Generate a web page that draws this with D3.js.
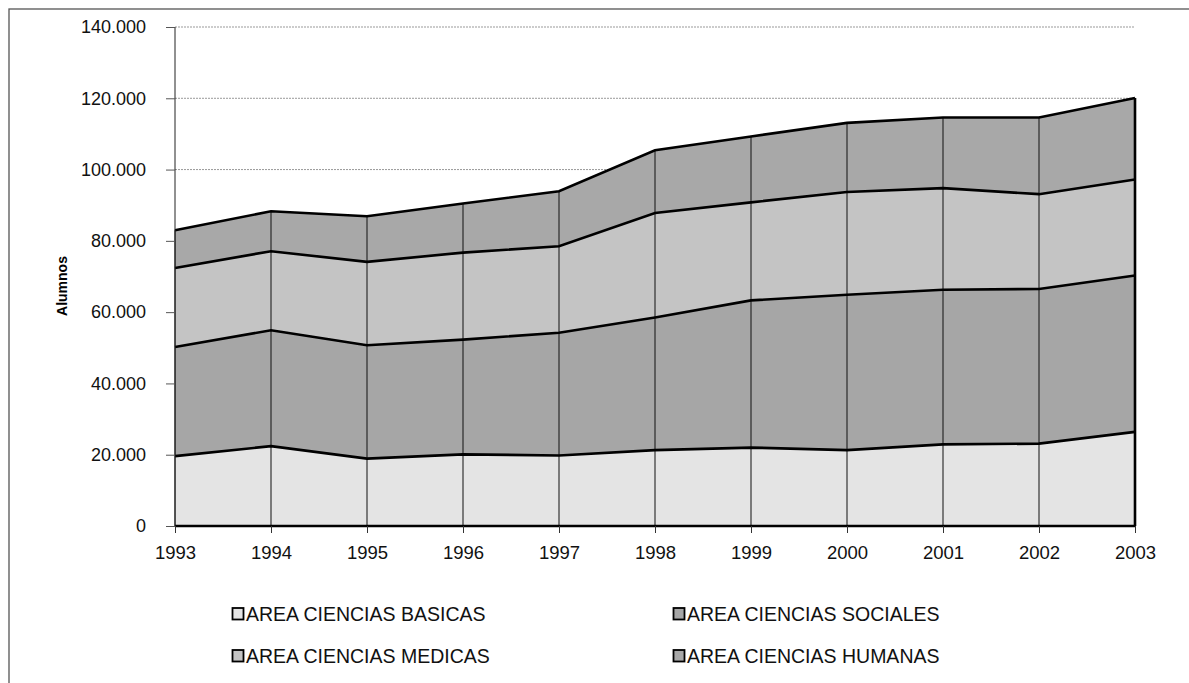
<!DOCTYPE html>
<html><head><meta charset="utf-8">
<script src="https://cdn.jsdelivr.net/npm/d3@7/dist/d3.min.js"></script>
<style>body{margin:0;background:#fff}svg{display:block}text{font-family:"Liberation Sans",Arial,sans-serif}</style>
</head><body><svg id="c" width="1189" height="683"></svg>
<script>
const years = [1993,1994,1995,1996,1997,1998,1999,2000,2001,2002,2003];
const basicas  = [19600,22400,18900,20100,19800,21300,22000,21300,22900,23100,26400];
const sociales = [30600,32500,31800,32200,34400,37200,41300,43600,43400,43400,43900];
const medicas  = [22200,22200,23400,24400,24300,29300,27500,28800,28500,26600,26900];
const humanas  = [10600,11200,12800,13800,15400,17600,18500,19400,19800,21500,22900];
const seriesNames = ["AREA CIENCIAS BASICAS","AREA CIENCIAS SOCIALES","AREA CIENCIAS MEDICAS","AREA CIENCIAS HUMANAS"];
const yTicks = [0,20000,40000,60000,80000,100000,120000,140000];
const fills = ["#e4e4e4","#a6a6a6","#c4c4c4","#a8a8a8"];

const svg = d3.select("#c");
const x = d3.scaleLinear().domain([1993,2003]).range([175,1135]);
const y = d3.scaleLinear().domain([0,140000]).range([526,27]);
const fmt = v => v === 0 ? "0" : d3.format(",")(v).replace(/,/g,".");

// outer frame
svg.append("rect").attr("x",9).attr("y",9).attr("width",1200).attr("height",700)
  .attr("fill","none").attr("stroke","#555").attr("stroke-width",1.3);

// horizontal gridlines
svg.append("g").selectAll("line").data(yTicks.slice(1)).join("line")
  .attr("x1",x(1993)).attr("x2",x(2003)).attr("y1",d=>y(d)).attr("y2",d=>y(d))
  .attr("stroke","#999").attr("stroke-width",1).attr("stroke-dasharray","2,1");

const rows = years.map((yr,i)=>({year:yr, s0:basicas[i], s1:sociales[i], s2:medicas[i], s3:humanas[i]}));
const stack = d3.stack().keys(["s0","s1","s2","s3"])(rows);
const area = d3.area().x(d=>x(d.data.year)).y0(d=>y(d[0])).y1(d=>y(d[1]));
const line = d3.line().x(d=>x(d.data.year)).y(d=>y(d[1]));

svg.append("g").selectAll("path").data(stack).join("path")
  .attr("d",area).attr("fill",(d,i)=>fills[i]);

// vertical year lines inside areas
const topLayer = stack[3];
svg.append("g").selectAll("line").data(topLayer).join("line")
  .attr("x1",d=>x(d.data.year)).attr("x2",d=>x(d.data.year))
  .attr("y1",y(0)).attr("y2",d=>y(d[1]))
  .attr("stroke","#111").attr("stroke-width",1);

// layer boundary lines
svg.append("g").selectAll("path").data(stack).join("path")
  .attr("d",line).attr("fill","none").attr("stroke","#000").attr("stroke-width",2.6);
svg.append("line").attr("x1",x(1993)).attr("x2",x(2003)).attr("y1",y(0)).attr("y2",y(0))
  .attr("stroke","#000").attr("stroke-width",2.6);
svg.append("line").attr("x1",x(2003)).attr("x2",x(2003)).attr("y1",y(0)).attr("y2",y(topLayer[10][1]))
  .attr("stroke","#000").attr("stroke-width",2.6);

// axes
const yAxis = d3.axisLeft(y).tickValues(yTicks).tickFormat(fmt).tickSize(9).tickPadding(20);
const gy = svg.append("g").attr("transform",`translate(${x(1993)},0)`).call(yAxis);
gy.select(".domain").attr("stroke","#222").attr("d",`M-0,${y(140000)}V${y(0)}`);
gy.selectAll(".tick line").attr("stroke","#555");
gy.selectAll("text").attr("font-size",18).attr("fill","#111").style("font-family","Liberation Sans, Arial");

const xAxis = d3.axisBottom(x).tickValues(years).tickFormat(d3.format("d")).tickSize(7).tickPadding(13);
const gx = svg.append("g").attr("transform",`translate(0,${y(0)})`).call(xAxis);
gx.select(".domain").remove();
gx.selectAll(".tick line").attr("stroke","#333");
gx.selectAll("text").attr("font-size",18.5).attr("fill","#111").style("font-family","Liberation Sans, Arial");

svg.append("text").attr("transform","translate(67,286) rotate(-90)")
  .attr("text-anchor","middle").style("font-size","14px").attr("font-weight","bold").text("Alumnos");

// legend
const legPos = [[232,621],[673,621],[232,663],[673,663]];
const lg = svg.append("g").selectAll("g").data(seriesNames).join("g")
  .attr("transform",(d,i)=>`translate(${legPos[i][0]},${legPos[i][1]})`);
lg.append("rect").attr("x",0.5).attr("y",-13).attr("width",11).attr("height",11.5)
  .attr("fill",(d,i)=>fills[i]).attr("stroke","#000").attr("stroke-width",1.8);
lg.append("text").attr("x",14).attr("y",0).attr("font-size",19.5).attr("fill","#111").text(d=>d);
</script></body></html>
